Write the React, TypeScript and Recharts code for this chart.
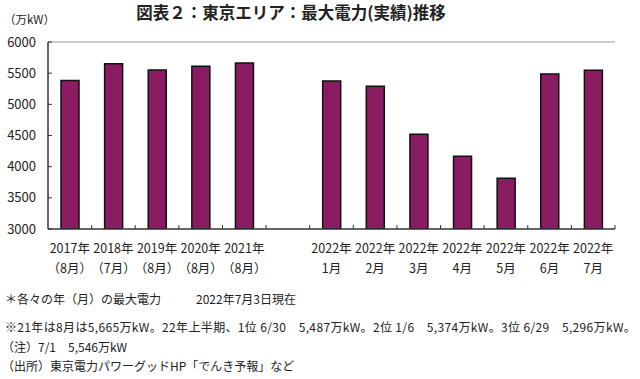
import React from 'react';
import { BarChart, Bar, XAxis, YAxis, ReferenceLine } from 'recharts';

const yearLabels = ['2017年', '2018年', '2019年', '2020年', '2021年', '', '2022年', '2022年', '2022年', '2022年', '2022年', '2022年', '2022年'];
const monthLabels = ['（8月）', '（7月）', '（8月）', '（8月）', '（8月）', '', '1月', '2月', '3月', '4月', '5月', '6月', '7月'];
const peakValues = [5383, 5653, 5550, 5609, 5665, null, 5374, 5290, 4520, 4166, 3816, 5487, 5546];
const yTicks = [3000, 3500, 4000, 4500, 5000, 5500, 6000];

const data = yearLabels.map((y, i) => ({ key: `c${i}`, year: y, month: monthLabels[i], value: peakValues[i] }));

const FONT = '"Noto Sans CJK JP", "Noto Sans", sans-serif';

const XTick = (props: any) => {
  const { x, y, payload, index } = props;
  const d = data[index];
  const off = payload.offset || 0;
  return (
    <g>
      <line x1={x + off} x2={x + off} y1={y} y2={y - 4} stroke="#333" />
      <text x={x} y={y + 24} textAnchor="middle" fontSize={12.5} fill="#222" fontFamily={FONT}>{d.year}</text>
      <text x={x} y={y + 44} textAnchor="middle" fontSize={12.5} fill="#222" fontFamily={FONT}>{d.month}</text>
    </g>
  );
};

export default function App() {
  return (
    <div style={{ position: 'fixed', left: 0, top: 0, width: 640, height: 379, background: '#fff', fontFamily: FONT, color: '#222' }}>
      <div style={{ position: 'absolute', left: 4, top: 11, fontSize: 11.5 }}>（万kW）</div>
      <div style={{ position: 'absolute', left: 0, width: 582, top: 0, textAlign: 'center', fontSize: 16.5, fontWeight: 700 }}>
        図表２：東京エリア：最大電力(実績)推移
      </div>
      <BarChart width={640} height={379} data={data} margin={{ top: 42, right: 25, left: 0, bottom: 110 }} barSize={18}>
        <XAxis dataKey="key" tickLine={false} tickSize={0} tickMargin={0} interval={0} tick={<XTick />} height={40} axisLine={{ stroke: '#333', strokeWidth: 1.5 }} />
        <YAxis
          yAxisId="l"
          domain={[3000, 6000]}
          ticks={yTicks}
          width={48}
          tickSize={-4}
          tickMargin={16}
          tickLine={{ stroke: '#333' }}
          axisLine={{ stroke: '#333', strokeWidth: 1.5 }}
          tick={{ fontSize: 13, fill: '#222', fontFamily: FONT }}
          allowDataOverflow
        />
        <YAxis yAxisId="r" orientation="right" width={0} tick={false} axisLine={{ stroke: '#999' }} tickLine={false} domain={[3000, 6000]} />
        <ReferenceLine yAxisId="l" y={6000} stroke="#999" />
        <Bar yAxisId="l" dataKey="value" fill="#8A1D62" stroke="#111" strokeWidth={1.5} isAnimationActive={false} />
      </BarChart>
      <div style={{ position: 'absolute', left: 5, top: 290, fontSize: 12, whiteSpace: 'pre' }}>＊各々の年（月）の最大電力</div>
      <div style={{ position: 'absolute', left: 196, top: 290, fontSize: 12, whiteSpace: 'pre' }}>2022年7月3日現在</div>
      <div style={{ position: 'absolute', left: 5, top: 318, fontSize: 12, letterSpacing: 0.35, whiteSpace: 'pre' }}>
        ※21年は8月は5,665万kW。22年上半期、1位 6/30　5,487万kW。2位 1/6　5,374万kW。3位 6/29　5,296万kW。
      </div>
      <div style={{ position: 'absolute', left: 2, top: 338, fontSize: 12, whiteSpace: 'pre' }}>（注）7/1　5,546万kW</div>
      <div style={{ position: 'absolute', left: 2, top: 357, fontSize: 12, whiteSpace: 'pre' }}>（出所）東京電力パワーグッドHP「でんき予報」など</div>
    </div>
  );
}
